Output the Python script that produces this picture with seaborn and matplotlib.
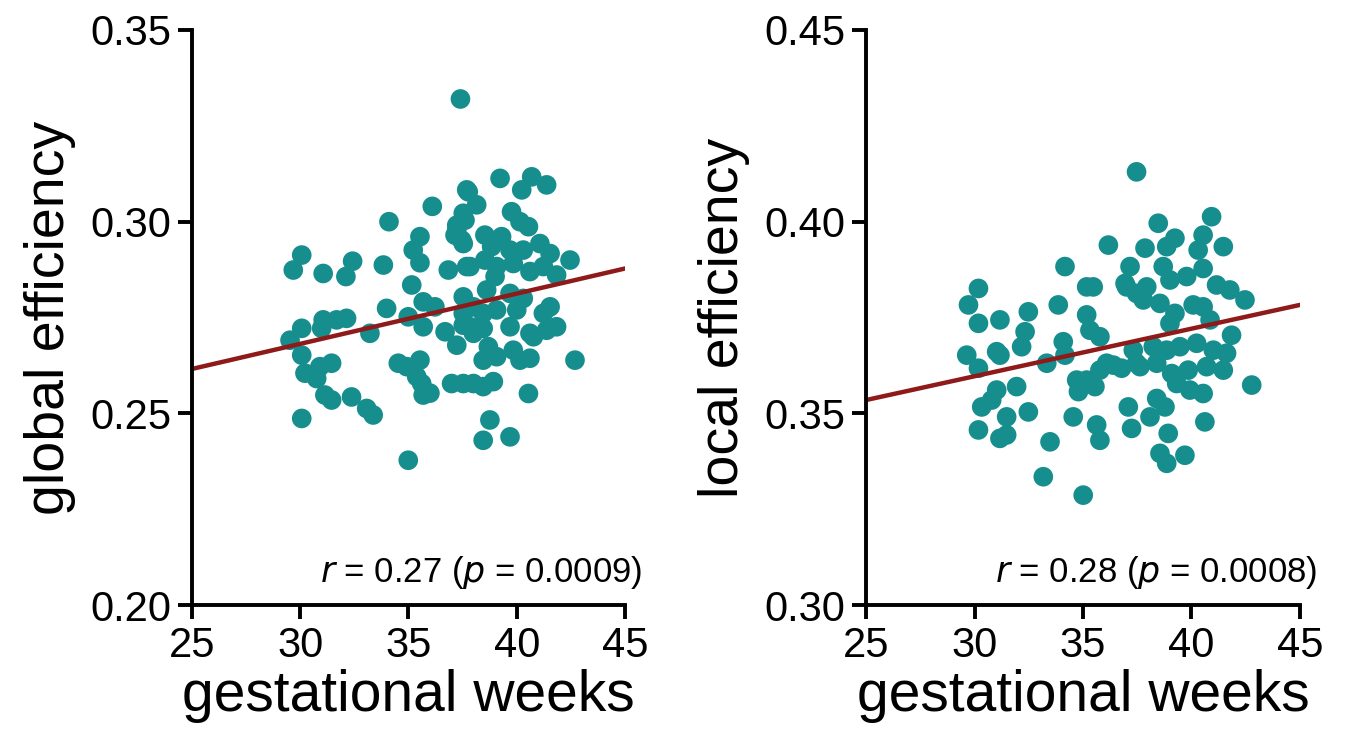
import numpy as np
import pandas as pd
import matplotlib
matplotlib.use("Agg")
import matplotlib.pyplot as plt
import seaborn as sns
from matplotlib.ticker import FormatStrFormatter

# global efficiency panel
ge_weeks = [37.4, 36.1, 34.1, 30.07, 29.68, 31.06, 32.42, 32.11, 33.84, 35.53,
            35.22, 35.53, 36.84, 37.69, 35.15, 35.68, 36.22, 33.99, 34.99, 35.68,
            36.69, 37.23, 37.53, 33.22, 32.14, 31.68, 31.06, 30.99, 30.07, 29.53,
            30.07, 30.22, 30.91, 31.45, 30.76, 31.14, 31.45, 32.37, 33.07, 33.37,
            30.07, 34.53, 34.92, 35.53, 35.38, 35.61, 35.68, 36.99, 37.53, 34.99,
            37.53, 37.61, 37.23, 37.46, 37.69, 39.23, 40.69, 41.38, 40.23, 37.76,
            38.15, 37.53, 37.23, 39.76, 40.15, 40.54, 37.15, 37.53, 38.53, 39.30,
            38.84, 39.69, 40.30, 41.07, 41.54, 42.46, 37.84, 38.53, 39.07, 39.84,
            40.61, 41.23, 41.84, 39.0, 38.61, 39.69, 40.30, 38.0, 37.53, 38.45,
            39.07, 40.0, 41.54, 41.23, 37.84, 38.45, 39.69, 40.61, 41.38, 41.84,
            38.0, 40.77, 38.69, 38.45, 39.07, 39.84, 40.15, 40.61, 42.69, 38.0,
            38.45, 38.92, 40.54, 38.76, 38.45, 39.69, 35.99]
ge_values = [0.332, 0.304, 0.300, 0.2913, 0.2874, 0.2865, 0.2897, 0.2857, 0.2887, 0.2961,
             0.2926, 0.2893, 0.2874, 0.2883, 0.2835, 0.2791, 0.2778, 0.2774, 0.2752, 0.2726,
             0.2713, 0.2678, 0.2730, 0.2709, 0.2748, 0.2744, 0.2744, 0.2722, 0.2722, 0.2691,
             0.2652, 0.2605, 0.2622, 0.2631, 0.2591, 0.2548, 0.2535, 0.2543, 0.2513, 0.2496,
             0.2487, 0.2631, 0.2622, 0.2639, 0.2596, 0.2578, 0.2548, 0.2578, 0.2578, 0.2378,
             0.2804, 0.3004, 0.2978, 0.2952, 0.3083, 0.3113, 0.3117, 0.3096, 0.3083, 0.3078,
             0.3044, 0.3022, 0.2991, 0.3026, 0.3000, 0.2987, 0.2965, 0.2943, 0.2965, 0.2961,
             0.2935, 0.2926, 0.2926, 0.2943, 0.2917, 0.2900, 0.2883, 0.2900, 0.2883, 0.2891,
             0.2870, 0.2883, 0.2861, 0.2857, 0.2822, 0.2813, 0.2800, 0.2778, 0.2761, 0.2761,
             0.2770, 0.2770, 0.2778, 0.2761, 0.2726, 0.2722, 0.2726, 0.2709, 0.2717, 0.2726,
             0.2709, 0.2700, 0.2674, 0.2639, 0.2648, 0.2665, 0.2639, 0.2644, 0.2639, 0.2578,
             0.2570, 0.2583, 0.2552, 0.2483, 0.2430, 0.2439, 0.2553]

# local efficiency panel
le_weeks = [37.47, 36.17, 34.17, 35.47, 35.17, 37.17, 37.01, 37.47, 30.18, 29.72,
            30.18, 31.17, 32.48, 33.86, 35.17, 35.32, 35.78, 32.33, 32.17, 34.09,
            34.17, 29.64, 30.18, 31.02, 31.17, 33.33, 37.32, 37.47, 35.78, 36.40,
            36.78, 34.71, 35.17, 34.79, 35.55, 31.02, 31.94, 30.79, 30.33, 31.48,
            32.48, 30.18, 31.17, 31.48, 33.48, 34.55, 35.63, 35.78, 37.09, 37.24,
            33.17, 35.01, 38.47, 40.93, 37.86, 39.24, 38.86, 40.54, 40.31, 41.47,
            38.70, 40.54, 36.94, 37.94, 39.01, 39.78, 41.16, 41.77, 42.47, 37.78,
            38.55, 39.24, 40.08, 40.54, 39.01, 40.86, 41.85, 38.24, 38.86, 39.47,
            40.24, 41.01, 41.62, 36.09, 37.63, 38.40, 39.09, 39.85, 40.70, 41.47,
            39.32, 39.93, 40.54, 42.78, 38.40, 38.78, 38.09, 40.62, 38.93, 38.55,
            38.86, 39.70]
le_values = [0.4130, 0.3939, 0.3883, 0.3830, 0.3830, 0.3883, 0.3830, 0.3813, 0.3826, 0.3783,
             0.3735, 0.3744, 0.3765, 0.3783, 0.3757, 0.3717, 0.3700, 0.3713, 0.3674, 0.3687,
             0.3652, 0.3652, 0.3618, 0.3661, 0.3652, 0.3631, 0.3665, 0.3631, 0.3613, 0.3626,
             0.3618, 0.3587, 0.3587, 0.3557, 0.3570, 0.3561, 0.3570, 0.3535, 0.3517, 0.3491,
             0.3504, 0.3457, 0.3435, 0.3444, 0.3426, 0.3491, 0.3470, 0.3430, 0.3517, 0.3461,
             0.3335, 0.3287, 0.3996, 0.4013, 0.3931, 0.3957, 0.3935, 0.3965, 0.3926, 0.3935,
             0.3883, 0.3878, 0.3839, 0.3830, 0.3848, 0.3857, 0.3835, 0.3822, 0.3796, 0.3796,
             0.3787, 0.3761, 0.3783, 0.3778, 0.3735, 0.3744, 0.3704, 0.3674, 0.3665, 0.3674,
             0.3683, 0.3665, 0.3657, 0.3631, 0.3622, 0.3631, 0.3604, 0.3613, 0.3622, 0.3613,
             0.3578, 0.3561, 0.3552, 0.3574, 0.3539, 0.3517, 0.3491, 0.3478, 0.3448, 0.3396,
             0.3370, 0.3391]

# fitted lines (end points)
fit_x = [25, 45]
ge_fit = [0.2616, 0.2878]
le_fit = [0.3535, 0.3783]

ge_ticks = [0.20, 0.25, 0.30, 0.35]
le_ticks = [0.30, 0.35, 0.40, 0.45]
week_ticks = [25, 30, 35, 40, 45]

sns.set_style("ticks")
plt.rcParams['font.family'] = ['Liberation Sans', 'DejaVu Sans']
plt.rcParams['text.color'] = 'black'
plt.rcParams['axes.labelcolor'] = 'black'
plt.rcParams['xtick.color'] = 'black'
plt.rcParams['ytick.color'] = 'black'

dot_color = "#168e8e"
line_color = "#8e1a1a"

fig = plt.figure(figsize=(13.47, 7.49), dpi=100)
ax1 = fig.add_axes([0.1425, 0.192, 0.3215, 0.768])
ax2 = fig.add_axes([0.643, 0.192, 0.322, 0.768])

panels = [
    (ax1, ge_weeks, ge_values, ge_fit, ge_ticks, "global efficiency", r"$\it{r}$ = 0.27 ($\it{p}$ = 0.0009)"),
    (ax2, le_weeks, le_values, le_fit, le_ticks, "local efficiency", r"$\it{r}$ = 0.28 ($\it{p}$ = 0.0008)"),
]

for ax, wk, vals, fit, yt, ylab, note in panels:
    df = pd.DataFrame({"weeks": wk, "eff": vals})
    sns.scatterplot(data=df, x="weeks", y="eff", ax=ax, color=dot_color,
                    s=200, edgecolor="none", zorder=2)
    sns.lineplot(x=fit_x, y=fit, ax=ax, color=line_color, linewidth=3.2, zorder=3)
    ax.set_xlim(25, 45)
    ax.set_ylim(yt[0], yt[-1])
    ax.set_xticks(week_ticks)
    ax.set_yticks(yt)
    ax.yaxis.set_major_formatter(FormatStrFormatter('%.2f'))
    ax.set_xlabel("gestational weeks", fontsize=41, labelpad=2)
    ax.set_ylabel(ylab, fontsize=40, labelpad=10)
    ax.tick_params(labelsize=30, length=10, width=2.8, pad=5, color="black")
    for side in ["top", "right"]:
        ax.spines[side].set_visible(False)
    for side in ["left", "bottom"]:
        ax.spines[side].set_linewidth(2.8)
        ax.spines[side].set_color("black")
        ax.spines[side].set_zorder(5)
    ax.text(1.04, 0.025, note, transform=ax.transAxes,
            ha="right", va="bottom", fontsize=25)

fig.savefig("out.png", dpi=100)
